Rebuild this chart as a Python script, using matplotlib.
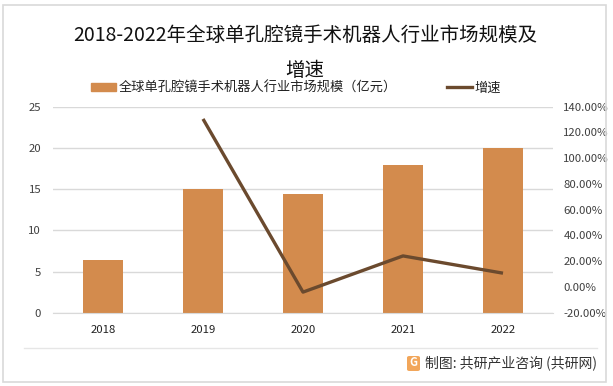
import numpy as np
import matplotlib
matplotlib.use('Agg')
import matplotlib.pyplot as plt
from matplotlib.patches import Rectangle, FancyBboxPatch
from matplotlib.lines import Line2D
from matplotlib.ticker import FuncFormatter, MultipleLocator

plt.rcParams['font.family'] = ['Noto Sans CJK SC', 'DejaVu Sans']

# data
years = ['2018', '2019', '2020', '2021', '2022']
market_size = [6.4, 15.0, 14.4, 17.9, 20.0]          # 亿元
growth = [np.nan, 130.5, -4.0, 24.1, 10.7]           # %

title = '2018-2022年全球单孔腔镜手术机器人行业市场规模及\n增速'
bar_label = '全球单孔腔镜手术机器人行业市场规模（亿元）'
line_label = '增速'
source = '制图: 共研产业咨询 (共研网)'

BAR_COLOR = '#D38B4D'
LINE_COLOR = '#6B4A2E'
GRID_COLOR = '#D9D9D9'
TICK_COLOR = '#404040'

fig = plt.figure(figsize=(6.13, 3.86), dpi=100)
fig.patch.set_facecolor('white')

# outer frame
fig.add_artist(Rectangle((3 / 613, 4 / 386), 603 / 613, 377 / 386,
                         transform=fig.transFigure, fill=False,
                         edgecolor='#D9D9D9', linewidth=1.2))

ax = fig.add_axes([53 / 613, 73.3 / 386, 500 / 613, 206 / 386])
x = np.arange(len(years))
ax.bar(x, market_size, width=0.4, color=BAR_COLOR, zorder=2)
ax.set_xlim(-0.5, len(years) - 0.5)
ax.set_ylim(0, 25)
ax.yaxis.set_major_locator(MultipleLocator(5))
ax.grid(axis='y', color=GRID_COLOR, linewidth=1, zorder=0)
ax.set_axisbelow(True)
for s in ['top', 'right', 'left']:
    ax.spines[s].set_visible(False)
ax.spines['bottom'].set_color(GRID_COLOR)
ax.set_xticks(x)
ax.set_xticklabels(years)
ax.tick_params(axis='both', length=0, labelsize=8.2, colors=TICK_COLOR)
ax.tick_params(axis='y', pad=8.5)
ax.tick_params(axis='x', pad=9)
for lab in ax.get_xticklabels():
    lab.set_color('#222222')

ax2 = ax.twinx()
ax2.plot(x, growth, color=LINE_COLOR, linewidth=2.4, zorder=3,
         solid_capstyle='butt')
ax2.set_ylim(-20, 140)
ax2.yaxis.set_major_locator(MultipleLocator(20))
ax2.yaxis.set_major_formatter(FuncFormatter(lambda v, p: f'{v:.2f}%'))
ax2.tick_params(axis='y', length=0, labelsize=8.2, colors=TICK_COLOR, pad=7.5)
for s in ax2.spines.values():
    s.set_visible(False)

# title
fig.text(305 / 613, 1 - 53 / 386, title, ha='center', va='center',
         fontsize=14, color='#111111', linespacing=1.9)

# legend
handles = [Rectangle((0, 0), 1, 1, color=BAR_COLOR),
           Line2D([0], [0], color=LINE_COLOR, linewidth=2.4)]
fig.legend(handles, [bar_label, line_label], loc='center',
           bbox_to_anchor=(296 / 613, 1 - 88 / 386), ncol=2, frameon=False,
           fontsize=9.5, handlelength=1.9, handleheight=0.55,
           handletextpad=0.2, columnspacing=3.8, labelcolor='#222222')

# footer
fig.add_artist(Line2D([24 / 613, 597 / 613], [1 - 348 / 386, 1 - 348 / 386],
                      transform=fig.transFigure, color='#E6E6E6', linewidth=1))
fig.add_artist(FancyBboxPatch((407 / 613, 1 - 371 / 386), 13 / 613, 15 / 386,
                              boxstyle='round,pad=0,rounding_size=0.004',
                              transform=fig.transFigure, facecolor='#F2A65A',
                              edgecolor='none'))
fig.text(413.5 / 613, 1 - 363 / 386, 'G', ha='center', va='center',
         fontsize=8, color='white', fontweight='bold')
fig.text(597 / 613, 1 - 363 / 386, source, ha='right', va='center',
         fontsize=10, color='#333333', fontweight='medium')

fig.savefig('out.png', dpi=100)
